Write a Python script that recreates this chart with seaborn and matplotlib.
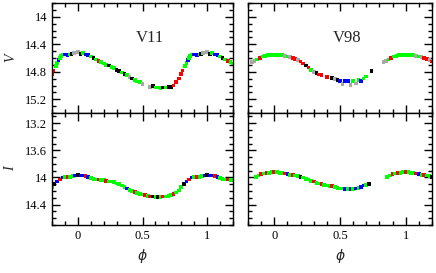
import numpy as np
import pandas as pd
import seaborn as sns
import matplotlib
matplotlib.use('Agg')
import matplotlib.pyplot as plt
from matplotlib.ticker import MultipleLocator, FixedLocator

# V11, V band
v11_v_phase = [0.00, 0.02, 0.04, 0.06, 0.08, 0.10, 0.12, 0.14, 0.16, 0.18, 0.20, 0.22, 0.24, 0.26,
               0.28, 0.30, 0.32, 0.34, 0.36, 0.38, 0.40, 0.42, 0.44, 0.46, 0.48, 0.50, 0.56, 0.58,
               0.60, 0.62, 0.64, 0.66, 0.68, 0.70, 0.72, 0.74, 0.76, 0.78, 0.80, 0.81, 0.83, 0.84,
               0.85, 0.86, 0.87, 0.88, 0.90, 0.92, 0.94, 0.95, 0.97, 0.98]
v11_v_mag = [14.51, 14.54, 14.53, 14.55, 14.56, 14.58, 14.60, 14.62, 14.64, 14.66, 14.68, 14.70, 14.71, 14.73,
             14.75, 14.77, 14.79, 14.81, 14.83, 14.85, 14.88, 14.90, 14.92, 14.94, 14.95, 14.98, 15.02, 15.01,
             15.03, 15.03, 15.04, 15.03, 15.03, 15.02, 15.02, 15.00, 14.95, 14.90, 14.83, 14.78, 14.72, 14.67,
             14.63, 14.60, 14.57, 14.55, 14.55, 14.56, 14.55, 14.54, 14.53, 14.52]
v11_v_col = ['gray', 'black', 'green', 'blue', 'blue', 'green', 'black', 'green', 'red', 'green', 'green', 'green', 'black', 'green',
             'green', 'black', 'black', 'green', 'black', 'green', 'gray', 'black', 'green', 'green', 'green', 'gray', 'gray', 'black',
             'green', 'green', 'green', 'black', 'green', 'black', 'black', 'red', 'red', 'red', 'red', 'red', 'green', 'green',
             'blue', 'green', 'green', 'green', 'blue', 'blue', 'green', 'black', 'gray', 'gray']

# V11, I band
v11_i_phase = [0.00, 0.02, 0.04, 0.06, 0.08, 0.10, 0.12, 0.14, 0.16, 0.18, 0.20, 0.22, 0.24, 0.26,
               0.28, 0.30, 0.32, 0.34, 0.36, 0.38, 0.40, 0.42, 0.44, 0.46, 0.48, 0.50, 0.52, 0.54,
               0.56, 0.58, 0.60, 0.62, 0.64, 0.66, 0.68, 0.70, 0.72, 0.74, 0.76, 0.78, 0.80, 0.82,
               0.84, 0.86, 0.88, 0.90, 0.92, 0.94, 0.96, 0.98]
v11_i_mag = [13.96, 13.97, 13.97, 13.98, 13.99, 14.01, 14.02, 14.03, 14.03, 14.04, 14.04, 14.05, 14.06, 14.06,
             14.07, 14.09, 14.10, 14.12, 14.14, 14.16, 14.18, 14.20, 14.21, 14.23, 14.24, 14.25, 14.26, 14.27,
             14.28, 14.28, 14.29, 14.29, 14.29, 14.28, 14.28, 14.27, 14.26, 14.24, 14.22, 14.19, 14.14, 14.10,
             14.06, 14.03, 14.00, 13.99, 13.99, 13.99, 13.98, 13.97]
v11_i_col = ['black', 'blue', 'blue', 'red', 'blue', 'green', 'green', 'green', 'red', 'green', 'green', 'red', 'green', 'green',
             'green', 'green', 'green', 'green', 'green', 'blue', 'green', 'green', 'red', 'green', 'green', 'green', 'red', 'green',
             'red', 'black', 'green', 'black', 'green', 'red', 'green', 'green', 'green', 'red', 'green', 'green', 'green', 'black',
             'blue', 'red', 'blue', 'green', 'red', 'green', 'green', 'blue']

# V98, V band
v98_v_phase = [0.00, 0.02, 0.04, 0.06, 0.08, 0.10, 0.12, 0.14, 0.16, 0.18, 0.20, 0.22, 0.24, 0.26,
               0.28, 0.30, 0.32, 0.34, 0.36, 0.40, 0.44, 0.46, 0.48, 0.50, 0.52, 0.54, 0.56, 0.58,
               0.60, 0.62, 0.64, 0.66, 0.68, 0.70, 0.74, 0.83, 0.85, 0.87, 0.89, 0.91, 0.93, 0.95, 0.97]
v98_v_mag = [14.56, 14.56, 14.56, 14.56, 14.57, 14.58, 14.59, 14.60, 14.61, 14.63, 14.65, 14.68, 14.71, 14.74,
             14.77, 14.80, 14.82, 14.84, 14.85, 14.88, 14.89, 14.91, 14.92, 14.93, 14.98, 14.93, 14.93, 14.99,
             14.93, 14.97, 14.92, 14.93, 14.90, 14.87, 14.79, 14.66, 14.64, 14.62, 14.60, 14.58, 14.57, 14.56, 14.56]
v98_v_col = ['green', 'green', 'green', 'green', 'gray', 'green', 'gray', 'red', 'red', 'gray', 'red', 'red', 'black', 'red',
             'green', 'gray', 'black', 'red', 'red', 'red', 'black', 'gray', 'black', 'blue', 'gray', 'blue', 'blue', 'gray',
             'green', 'gray', 'green', 'blue', 'green', 'green', 'black', 'gray', 'gray', 'green', 'red', 'green', 'green', 'green', 'green']

# V98, I band
v98_i_phase = [0.00, 0.02, 0.04, 0.06, 0.08, 0.10, 0.12, 0.14, 0.16, 0.18, 0.20, 0.22, 0.24, 0.26,
               0.28, 0.30, 0.32, 0.34, 0.36, 0.38, 0.40, 0.42, 0.44, 0.46, 0.48, 0.50, 0.52, 0.54,
               0.56, 0.58, 0.60, 0.62, 0.64, 0.66, 0.68, 0.70, 0.72, 0.86, 0.88, 0.90, 0.92, 0.94, 0.96, 0.98]
v98_i_mag = [13.92, 13.92, 13.93, 13.93, 13.94, 13.95, 13.96, 13.96, 13.97, 13.98, 13.99, 14.00, 14.02, 14.03,
             14.05, 14.06, 14.08, 14.09, 14.10, 14.11, 14.12, 14.13, 14.13, 14.14, 14.15, 14.16, 14.16, 14.17,
             14.17, 14.17, 14.17, 14.16, 14.15, 14.14, 14.12, 14.11, 14.10, 13.99, 13.97, 13.95, 13.94, 13.93, 13.93, 13.92]
v98_i_col = ['red', 'green', 'green', 'green', 'red', 'blue', 'green', 'red', 'green', 'green', 'black', 'green', 'green', 'green',
             'green', 'red', 'green', 'green', 'red', 'green', 'green', 'green', 'red', 'green', 'green', 'green', 'green', 'blue',
             'green', 'blue', 'green', 'blue', 'green', 'blue', 'blue', 'green', 'black', 'green', 'green', 'red', 'green', 'red', 'green', 'green']

star_names = ['V11', 'V98']
band_labels = ['V', 'I']
x_ticks = [0, 0.5, 1]
x_ticklabels = ['0', '0.5', '1']
v_ticks = [14, 14.4, 14.8, 15.2]
i_ticks = [13.2, 13.6, 14, 14.4]

cores = {'black': '#000000', 'gray': '#a8a8a8', 'red': '#ff0000', 'green': '#00ff00', 'blue': '#0000ff'}


def wrap(phase, mag, col):
    # repete os pontos para cobrir -0.2 .. 1.2
    df = pd.DataFrame({'fase': phase, 'mag': mag, 'cor': col})
    antes = df[df['fase'] >= 0.8].copy()
    antes['fase'] = antes['fase'] - 1
    depois = df[df['fase'] <= 0.2].copy()
    depois['fase'] = depois['fase'] + 1
    return pd.concat([antes, df, depois], ignore_index=True)


sns.set_style('ticks')
plt.rcParams['font.family'] = ['Liberation Serif', 'DejaVu Serif']

fig = plt.figure(figsize=(4.36, 2.73), dpi=100)
W, H = 436, 273
boxes = {(0, 0): (52, 3, 181, 110), (1, 0): (52, 113, 181, 112),
         (0, 1): (248, 3, 184, 110), (1, 1): (248, 113, 184, 112)}
dados = {(0, 0): wrap(v11_v_phase, v11_v_mag, v11_v_col),
         (1, 0): wrap(v11_i_phase, v11_i_mag, v11_i_col),
         (0, 1): wrap(v98_v_phase, v98_v_mag, v98_v_col),
         (1, 1): wrap(v98_i_phase, v98_i_mag, v98_i_col)}

for (r, c), (x0, y0, w, h) in boxes.items():
    ax = fig.add_axes([x0 / W, 1 - (y0 + h) / H, w / W, h / H])
    sns.scatterplot(data=dados[(r, c)], x='fase', y='mag', hue='cor', palette=cores,
                    marker='s', s=7, linewidth=0, legend=False, ax=ax)
    ax.set_xlim(-0.2, 1.2)
    if r == 0:
        ax.set_ylim(15.4, 13.8)
        ax.yaxis.set_major_locator(FixedLocator(v_ticks))
        ax.text(0.54, 0.68, star_names[c], transform=ax.transAxes, ha='center', va='center', fontsize=12)
    else:
        ax.set_ylim(14.7, 13.05)
        ax.yaxis.set_major_locator(FixedLocator(i_ticks))
    ax.yaxis.set_minor_locator(MultipleLocator(0.1))
    ax.xaxis.set_major_locator(FixedLocator(x_ticks))
    ax.xaxis.set_minor_locator(MultipleLocator(0.1))
    ax.tick_params(which='both', direction='in', top=True, right=True, width=1, labelsize=9, colors='black')
    ax.tick_params(which='major', length=6)
    ax.tick_params(which='minor', length=3)
    for sp in ax.spines.values():
        sp.set_linewidth(1)
        sp.set_color('black')
    ax.set_xlabel('')
    ax.set_ylabel('')
    if c == 0:
        ax.set_yticklabels([f'{t:g}' for t in ax.get_yticks()])
        ax.set_ylabel(band_labels[r], fontsize=10, style='italic', labelpad=6)
    else:
        ax.set_yticklabels([])
    if r == 1:
        ax.set_xticklabels(x_ticklabels)
        ax.set_xlabel('$\\phi$', fontsize=10, labelpad=4)
    else:
        ax.set_xticklabels([])

fig.savefig('out.png', dpi=100)
